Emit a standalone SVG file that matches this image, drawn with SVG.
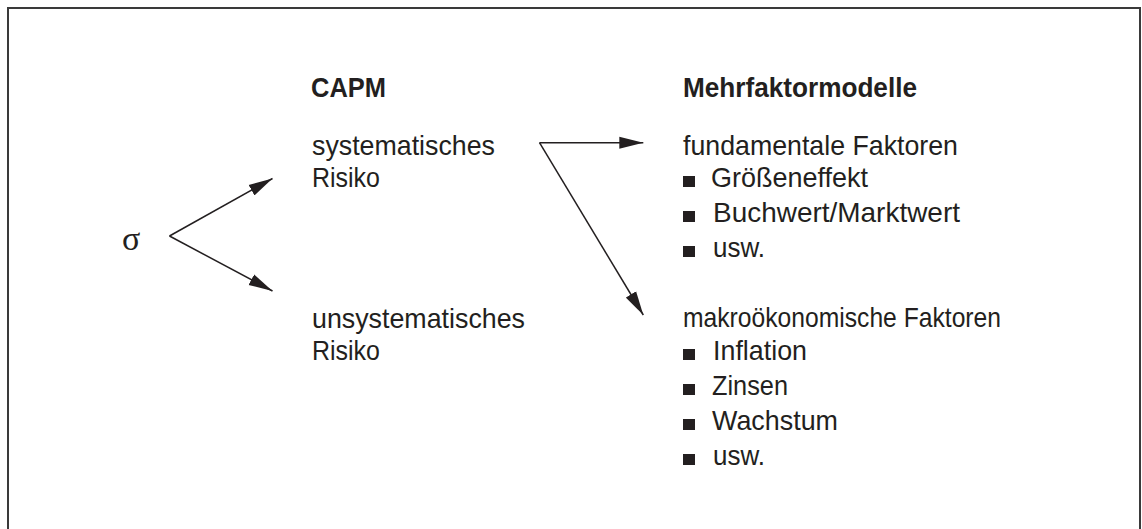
<svg xmlns="http://www.w3.org/2000/svg" width="1142" height="529" viewBox="0 0 1142 529">
  <style>
    .t { font-family: "Liberation Sans", Arial, sans-serif; font-size: 28px; fill: #231f20; }
    .b { font-weight: bold; }
    .c { stroke: #231f20; stroke-width: 1.5; fill: none; marker-end: url(#ah); }
    .bul { fill: #231f20; }
  </style>
  <defs>
    <marker id="ah" markerUnits="userSpaceOnUse" markerWidth="25" markerHeight="13" refX="24" refY="6.5" orient="auto">
      <path d="M0,0.5 L24,6.5 L0,12.5 Z" fill="#231f20"/>
    </marker>
  </defs>
  <rect x="8" y="8" width="1132" height="540" fill="#ffffff" stroke="#3a3a3a" stroke-width="2"/>

  <g id="sigma">
    <text x="122" y="250" style="font-family: 'Liberation Serif', 'Times New Roman', serif; font-size: 34px; fill: #231f20;">σ</text>
  </g>

  <g id="capm">
    <text class="t b" x="311" y="97" textLength="75" lengthAdjust="spacingAndGlyphs">CAPM</text>
  </g>
  <g id="systematisch">
    <text class="t" x="312" y="155" textLength="183" lengthAdjust="spacingAndGlyphs">systematisches</text>
    <text class="t" x="312" y="187" textLength="68" lengthAdjust="spacingAndGlyphs">Risiko</text>
  </g>
  <g id="unsystematisch">
    <text class="t" x="312" y="328" textLength="213" lengthAdjust="spacingAndGlyphs">unsystematisches</text>
    <text class="t" x="312" y="360" textLength="68" lengthAdjust="spacingAndGlyphs">Risiko</text>
  </g>

  <g id="mehrfaktor">
    <text class="t b" x="683" y="97" textLength="234" lengthAdjust="spacingAndGlyphs">Mehrfaktormodelle</text>
  </g>
  <g id="fundamental">
    <text class="t" x="683" y="155" textLength="275" lengthAdjust="spacingAndGlyphs">fundamentale Faktoren</text>
    <rect class="bul" x="683" y="176" width="12" height="11"/>
    <text class="t" x="711" y="187" textLength="157" lengthAdjust="spacingAndGlyphs">Größeneffekt</text>
    <rect class="bul" x="683" y="211" width="12" height="11"/>
    <text class="t" x="713" y="222" textLength="247" lengthAdjust="spacingAndGlyphs">Buchwert/Marktwert</text>
    <rect class="bul" x="683" y="246" width="12" height="11"/>
    <text class="t" x="713" y="257" textLength="52" lengthAdjust="spacingAndGlyphs">usw.</text>
  </g>
  <g id="makro">
    <text class="t" x="683" y="327" textLength="318" lengthAdjust="spacingAndGlyphs">makroökonomische Faktoren</text>
    <rect class="bul" x="683" y="349" width="12" height="11"/>
    <text class="t" x="713" y="360" textLength="94" lengthAdjust="spacingAndGlyphs">Inflation</text>
    <rect class="bul" x="683" y="384" width="12" height="11"/>
    <text class="t" x="712" y="395" textLength="76" lengthAdjust="spacingAndGlyphs">Zinsen</text>
    <rect class="bul" x="683" y="419" width="12" height="11"/>
    <text class="t" x="712" y="430" textLength="126" lengthAdjust="spacingAndGlyphs">Wachstum</text>
    <rect class="bul" x="683" y="454" width="12" height="11"/>
    <text class="t" x="713" y="465" textLength="52" lengthAdjust="spacingAndGlyphs">usw.</text>
  </g>

  <g id="connectors">
    <path class="c" d="M169.5,236 L272.5,178.5"/>
    <path class="c" d="M169.5,236 L272.5,291"/>
    <path class="c" d="M539.5,142.7 L643.3,142.7"/>
    <path class="c" d="M539.5,142.7 L643.3,315"/>
  </g>
</svg>
